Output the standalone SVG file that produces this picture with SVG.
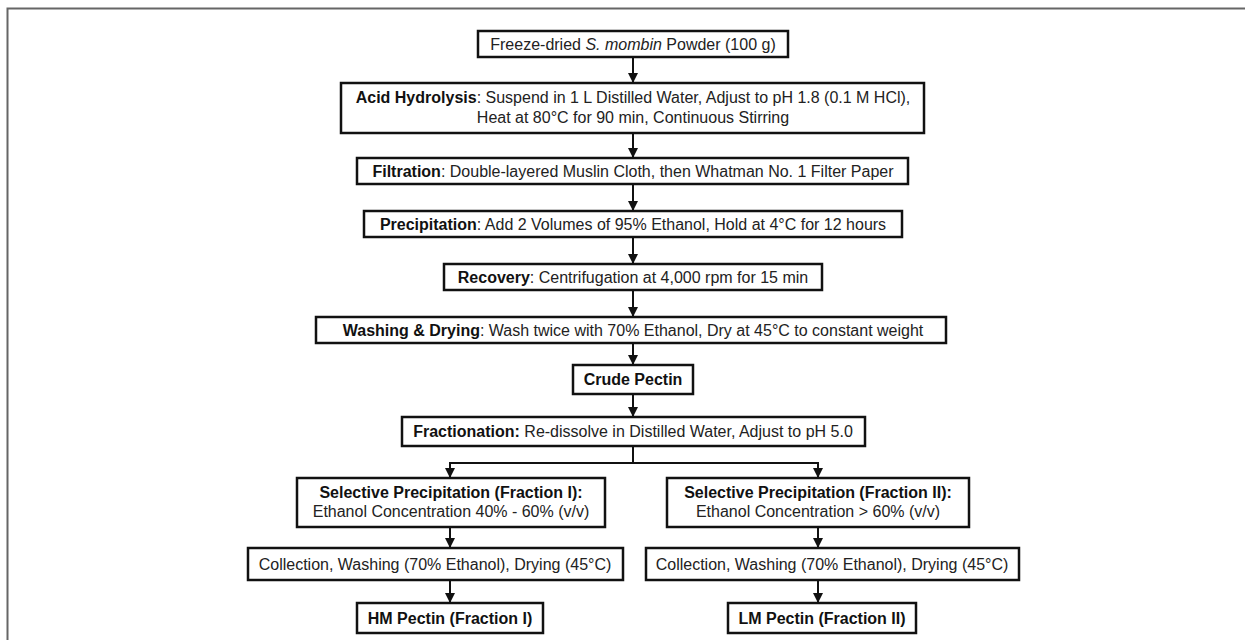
<svg xmlns="http://www.w3.org/2000/svg" width="1245" height="640" viewBox="0 0 1245 640">
<defs>
<style>
.box{fill:#fff;stroke:#111;stroke-width:2.5}
.t{font-family:"Liberation Sans",Arial,sans-serif;font-size:16px;fill:#222;text-anchor:middle}
.b{font-weight:bold;fill:#111}
.c{stroke:#111;stroke-width:2;fill:none}
</style>
<marker id="ah" viewBox="0 0 10 10" refX="10" refY="5" markerWidth="10" markerHeight="10" markerUnits="userSpaceOnUse" orient="auto">
<path d="M0,0 L10,5 L0,10 z" fill="#111"/>
</marker>
</defs>
<rect width="1245" height="640" fill="#fff"/>
<path d="M7.5 645 V8.5 H1250" fill="none" stroke="#666" stroke-width="2"/>
<g id="connectors">
<line class="c" x1="633" y1="57" x2="633" y2="83" marker-end="url(#ah)"/>
<line class="c" x1="633" y1="133" x2="633" y2="158" marker-end="url(#ah)"/>
<line class="c" x1="633" y1="184" x2="633" y2="211" marker-end="url(#ah)"/>
<line class="c" x1="633" y1="237" x2="633" y2="264" marker-end="url(#ah)"/>
<line class="c" x1="633" y1="290" x2="633" y2="317" marker-end="url(#ah)"/>
<line class="c" x1="633" y1="343" x2="633" y2="365" marker-end="url(#ah)"/>
<line class="c" x1="633" y1="394" x2="633" y2="417" marker-end="url(#ah)"/>
<path class="c" d="M633 446 V463 M450 463 H818"/>
<line class="c" x1="450" y1="462" x2="450" y2="478" marker-end="url(#ah)"/>
<line class="c" x1="818" y1="462" x2="818" y2="478" marker-end="url(#ah)"/>
<line class="c" x1="450" y1="527" x2="450" y2="548" marker-end="url(#ah)"/>
<line class="c" x1="818" y1="527" x2="818" y2="548" marker-end="url(#ah)"/>
<line class="c" x1="450" y1="580" x2="450" y2="603" marker-end="url(#ah)"/>
<line class="c" x1="818" y1="580" x2="818" y2="603" marker-end="url(#ah)"/>
</g>
<g id="n1"><rect class="box" x="478" y="31" width="310" height="26"/>
<text class="t" x="633" y="50">Freeze-dried <tspan font-style="italic">S. mombin</tspan> Powder (100 g)</text></g>
<g id="n2"><rect class="box" x="341" y="83" width="583" height="50"/>
<text class="t" x="633" y="103"><tspan class="b">Acid Hydrolysis</tspan>: Suspend in 1 L Distilled Water, Adjust to pH 1.8 (0.1 M HCl),</text>
<text class="t" x="633" y="123">Heat at 80°C for 90 min, Continuous Stirring</text></g>
<g id="n3"><rect class="box" x="357" y="158" width="551" height="26"/>
<text class="t" x="633" y="177"><tspan class="b">Filtration</tspan>: Double-layered Muslin Cloth, then Whatman No. 1 Filter Paper</text></g>
<g id="n4"><rect class="box" x="364" y="211" width="538" height="26"/>
<text class="t" x="633" y="230"><tspan class="b">Precipitation</tspan>: Add 2 Volumes of 95% Ethanol, Hold at 4°C for 12 hours</text></g>
<g id="n5"><rect class="box" x="444" y="264" width="378" height="26"/>
<text class="t" x="633" y="283"><tspan class="b">Recovery</tspan>: Centrifugation at 4,000 rpm for 15 min</text></g>
<g id="n6"><rect class="box" x="316" y="317" width="630" height="26"/>
<text class="t" x="633" y="336"><tspan class="b">Washing &amp; Drying</tspan>: Wash twice with 70% Ethanol, Dry at 45°C to constant weight</text></g>
<g id="n7"><rect class="box" x="573" y="365" width="120" height="29"/>
<text class="t b" x="633" y="385">Crude Pectin</text></g>
<g id="n8"><rect class="box" x="402" y="417" width="463" height="29"/>
<text class="t" x="633" y="437"><tspan class="b">Fractionation:</tspan> Re-dissolve in Distilled Water, Adjust to pH 5.0</text></g>
<g id="n9"><rect class="box" x="297" y="478" width="308" height="49"/>
<text class="t b" x="451" y="498">Selective Precipitation (Fraction I):</text>
<text class="t" x="451" y="517">Ethanol Concentration 40% - 60% (v/v)</text></g>
<g id="n10"><rect class="box" x="667" y="478" width="302" height="49"/>
<text class="t b" x="818" y="498">Selective Precipitation (Fraction II):</text>
<text class="t" x="818" y="517">Ethanol Concentration &gt; 60% (v/v)</text></g>
<g id="n11"><rect class="box" x="248" y="548" width="375" height="32"/>
<text class="t" x="435" y="570">Collection, Washing (70% Ethanol), Drying (45°C)</text></g>
<g id="n12"><rect class="box" x="646" y="548" width="373" height="32"/>
<text class="t" x="832" y="570">Collection, Washing (70% Ethanol), Drying (45°C)</text></g>
<g id="n13"><rect class="box" x="357" y="603" width="186" height="30"/>
<text class="t b" x="450" y="624">HM Pectin (Fraction I)</text></g>
<g id="n14"><rect class="box" x="728" y="603" width="188" height="30"/>
<text class="t b" x="822" y="624">LM Pectin (Fraction II)</text></g>
</svg>
